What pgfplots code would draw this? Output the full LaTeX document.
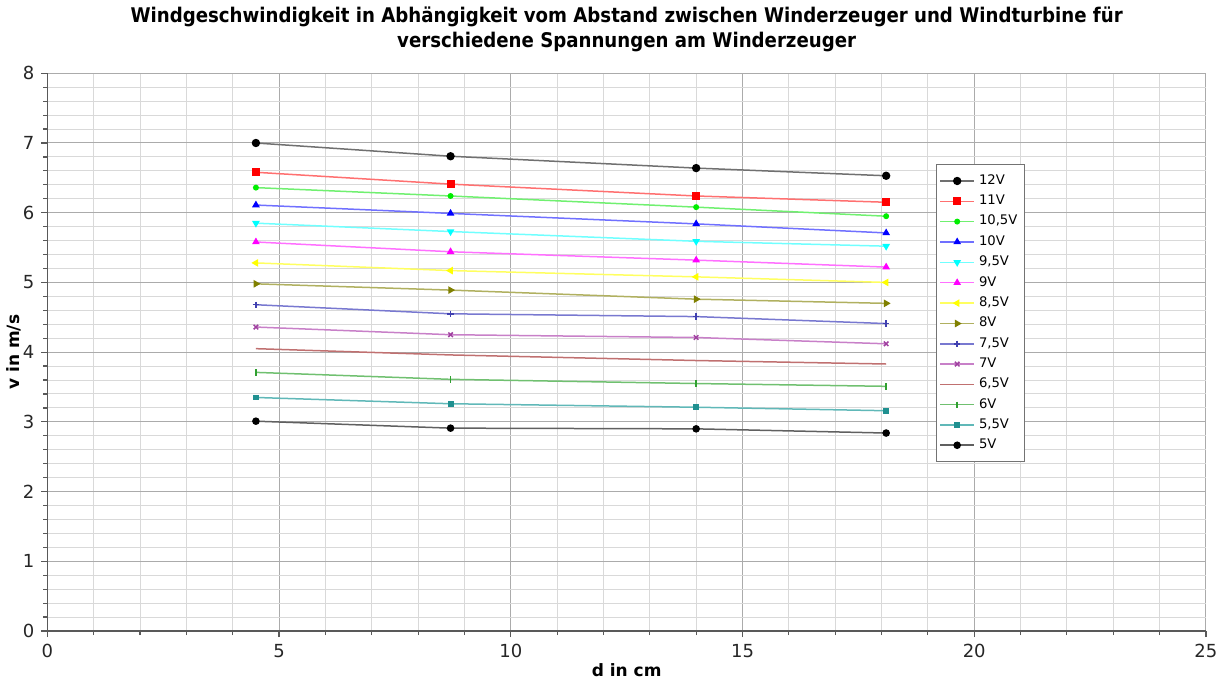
\documentclass[border=0pt]{standalone}
\usepackage{pgfplots}
\pgfplotsset{compat=1.18}
\usepackage{fontspec}
\setmainfont{DejaVu Sans}
\newfontfamily\titlefont{DejaVu Sans Condensed}
\usepackage{xcolor}

\definecolor{m12}{HTML}{000000}\definecolor{l12}{HTML}{707070}
\definecolor{m11}{HTML}{FF0000}\definecolor{l11}{HTML}{FF7070}
\definecolor{m105}{HTML}{00EE00}\definecolor{l105}{HTML}{70F070}
\definecolor{m10}{HTML}{0000FF}\definecolor{l10}{HTML}{7070FF}
\definecolor{m95}{HTML}{00FFFF}\definecolor{l95}{HTML}{70FFFF}
\definecolor{m9}{HTML}{FF00FF}\definecolor{l9}{HTML}{FF70FF}
\definecolor{m85}{HTML}{FFFF00}\definecolor{l85}{HTML}{FFFF60}
\definecolor{m8}{HTML}{808000}\definecolor{l8}{HTML}{B0B060}
\definecolor{m75}{HTML}{4040B0}\definecolor{l75}{HTML}{7878D0}
\definecolor{m7}{HTML}{A040A0}\definecolor{l7}{HTML}{C880C8}
\definecolor{l65}{HTML}{C07070}
\definecolor{m6}{HTML}{30A030}\definecolor{l6}{HTML}{70C070}
\definecolor{m55}{HTML}{209090}\definecolor{l55}{HTML}{60B8B8}
\definecolor{m5}{HTML}{000000}\definecolor{l5}{HTML}{606060}

\begin{document}
\begin{tikzpicture}
\begin{axis}[
    scale only axis,
    width=579.5pt, height=279pt,
    xmin=0, xmax=25, ymin=0, ymax=8,
    xtick={0,5,...,25}, ytick={0,1,...,8},
    minor x tick num=4, minor y tick num=4,
    axis lines=left,
    axis line style={-, draw=black!65, line width=0.8pt},
    tick align=outside,
    major tick length=3pt, minor tick length=2pt,
    every tick/.style={black!65, line width=0.6pt},
    grid=both,
    major grid style={black!33, line width=0.5pt},
    minor grid style={black!15, line width=0.5pt},
    tick label style={font=\fontsize{9}{10}\selectfont, black!85},
    /pgf/number format/assume math mode=true,
    xlabel={\bfseries d in cm},
    ylabel={\bfseries v in m/s},
    label style={font=\fontsize{8.5}{10}\selectfont},
    xlabel style={yshift=4pt},
    ylabel style={yshift=-6pt},
    title={\bfseries Windgeschwindigkeit in Abhängigkeit vom Abstand zwischen Winderzeuger und Windturbine für\\ \bfseries verschiedene Spannungen am Winderzeuger},
    title style={font=\titlefont\fontsize{10.1}{12.8}\selectfont, align=center, yshift=1pt},
    legend style={at={(0.767,0.837)}, anchor=north west, draw=black!55,
        font=\fontsize{6.6}{7}\selectfont, row sep=-0.2pt, inner xsep=1.5pt, inner ysep=3pt},
    legend cell align=left,
    every axis plot/.append style={line width=0.75pt},
]
\addplot[l12, mark=*, mark size=1.7pt, mark options={m12}] coordinates {(4.5,7.00) (8.7,6.81) (14,6.64) (18.1,6.53)};
\addlegendentry{12V}
\addplot[l11, mark=square*, mark size=1.6pt, mark options={m11}] coordinates {(4.5,6.58) (8.7,6.41) (14,6.24) (18.1,6.15)};
\addlegendentry{11V}
\addplot[l105, mark=*, mark size=1.1pt, mark options={m105}] coordinates {(4.5,6.36) (8.7,6.24) (14,6.08) (18.1,5.95)};
\addlegendentry{10,5V}
\addplot[l10, mark=triangle*, mark size=1.5pt, mark options={m10}] coordinates {(4.5,6.11) (8.7,5.99) (14,5.84) (18.1,5.71)};
\addlegendentry{10V}
\addplot[l95, mark=triangle*, mark size=1.5pt, mark options={m95, rotate=180}] coordinates {(4.5,5.85) (8.7,5.73) (14,5.59) (18.1,5.52)};
\addlegendentry{9,5V}
\addplot[l9, mark=triangle*, mark size=1.5pt, mark options={m9}] coordinates {(4.5,5.58) (8.7,5.44) (14,5.32) (18.1,5.22)};
\addlegendentry{9V}
\addplot[l85, mark=triangle*, mark size=1.5pt, mark options={m85, rotate=90}] coordinates {(4.5,5.28) (8.7,5.17) (14,5.08) (18.1,5.00)};
\addlegendentry{8,5V}
\addplot[l8, mark=triangle*, mark size=1.5pt, mark options={m8, rotate=-90}] coordinates {(4.5,4.98) (8.7,4.89) (14,4.76) (18.1,4.70)};
\addlegendentry{8V}
\addplot[l75, mark=+, mark size=1.6pt, mark options={m75}] coordinates {(4.5,4.68) (8.7,4.55) (14,4.51) (18.1,4.41)};
\addlegendentry{7,5V}
\addplot[l7, mark=x, mark size=1.6pt, mark options={m7}] coordinates {(4.5,4.36) (8.7,4.25) (14,4.21) (18.1,4.12)};
\addlegendentry{7V}
\addplot[l65] coordinates {(4.5,4.05) (8.7,3.96) (14,3.88) (18.1,3.83)};
\addlegendentry{6,5V}
\addplot[l6, mark=|, mark size=1.6pt, mark options={m6}] coordinates {(4.5,3.71) (8.7,3.61) (14,3.55) (18.1,3.51)};
\addlegendentry{6V}
\addplot[l55, mark=square*, mark size=1.1pt, mark options={m55}] coordinates {(4.5,3.35) (8.7,3.26) (14,3.21) (18.1,3.16)};
\addlegendentry{5,5V}
\addplot[l5, mark=*, mark size=1.5pt, mark options={m5}] coordinates {(4.5,3.01) (8.7,2.91) (14,2.90) (18.1,2.84)};
\addlegendentry{5V}
\end{axis}
\end{tikzpicture}
\end{document}
